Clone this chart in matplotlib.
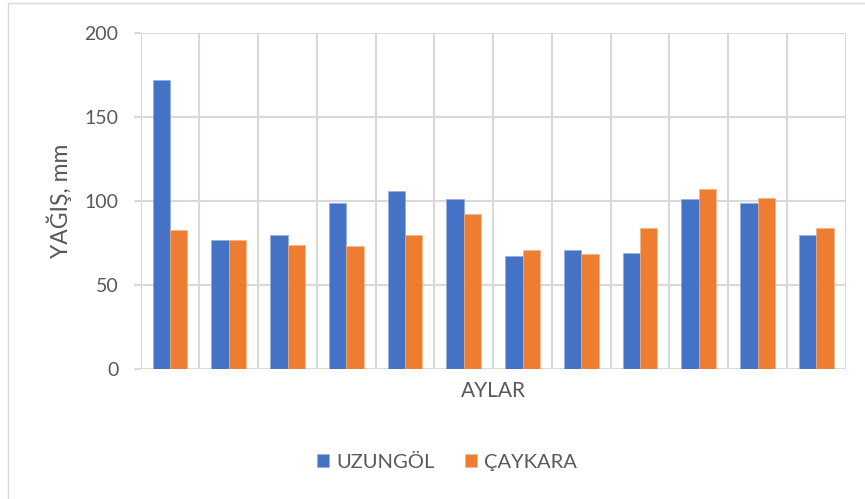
import numpy as np
from matplotlib import pyplot as plt
from matplotlib.patches import Rectangle

plt.rcParams["font.family"] = ["Lato", "DejaVu Sans"]

# monthly precipitation (mm), Jan..Dec
months = list(range(12))
uzungol = [172, 77, 80, 98.6, 105.7, 101, 67.3, 71, 69, 101, 99, 79.6]
caykara = [82.7, 77, 73.6, 73.2, 79.8, 92, 71, 68.3, 84, 107, 102, 84.1]
series_names = ["UZUNGÖL", "ÇAYKARA"]
y_ticks = [0, 50, 100, 150, 200]

TEXT = "#595959"
GRID = "#D9D9D9"

fig = plt.figure(figsize=(8.65, 4.99), dpi=100)
axis = fig.add_axes([0.1627, 0.2599, 0.8149, 0.6746])

# light outer chart border
fig.patches.append(
    Rectangle((8 / 865, -0.1), 1.2, 1.0 - 3 / 499 + 0.1, transform=fig.transFigure,
              fill=False, edgecolor=GRID, linewidth=1.0)
)

x = np.array(months)
width = 0.296
axis.bar(x - width / 2, uzungol, width, color="#4472C4", label=series_names[0],
         zorder=3, edgecolor="#8FAADC", linewidth=0.4)
axis.bar(x + width / 2, caykara, width, color="#ED7D31", label=series_names[1],
         zorder=3, edgecolor="#F4B183", linewidth=0.4)

axis.set_xlim(-0.5, 11.5)
axis.set_ylim(0, 200)
axis.set_yticks(y_ticks)
axis.set_xticks(np.arange(-0.5, 12, 1.0))
axis.set_xticklabels([])

axis.grid(True, color=GRID, linewidth=1.5, zorder=0)
axis.set_axisbelow(True)
for side in ["top", "right", "bottom", "left"]:
    axis.spines[side].set_visible(False)

axis.tick_params(axis="y", length=5, width=1.5, color=GRID, labelsize=14,
                 labelcolor=TEXT, pad=11)
axis.tick_params(axis="x", length=0)

fig.text(59 / 865, 1 - 201 / 499, "YAĞIŞ, mm", fontsize=16.5, color=TEXT,
         rotation=90, ha="center", va="center")
fig.text(493 / 865, 1 - 391 / 499, "AYLAR", fontsize=15, color=TEXT,
         ha="center", va="center")

fig.legend(
    loc="center",
    bbox_to_anchor=(447 / 865, 1 - 462 / 499),
    ncol=2,
    frameon=False,
    fontsize=14.5,
    labelcolor=TEXT,
    handlelength=0.6,
    handleheight=0.6,
    handletextpad=0.35,
    columnspacing=1.5,
)

fig.savefig("out.png", dpi=100)
